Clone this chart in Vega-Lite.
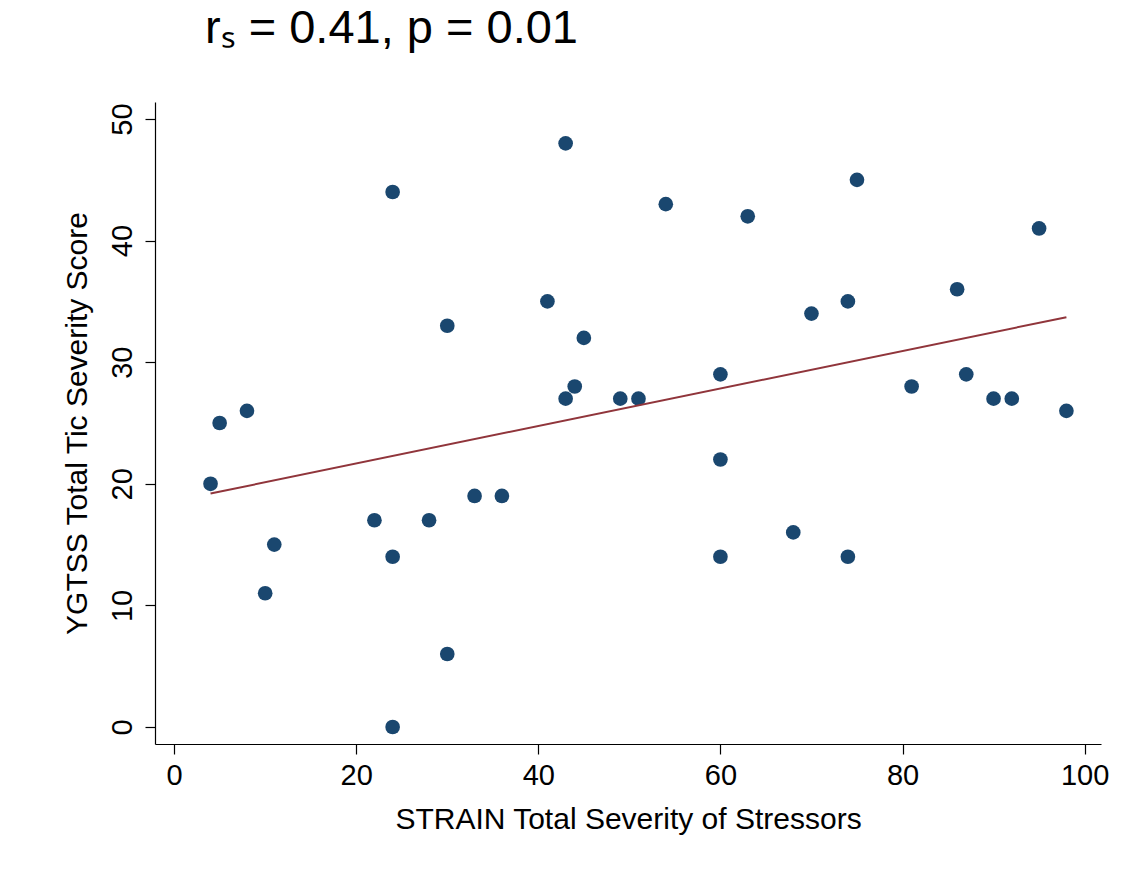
{
  "$schema": "https://vega.github.io/schema/vega-lite/v6.json",
  "autosize": "none",
  "width": 946,
  "height": 642,
  "padding": {"left": 155, "top": 102, "right": 40, "bottom": 132},
  "background": "white",
  "config": {
    "view": {"stroke": null},
    "font": "Liberation Sans",
    "axis": {"grid": false, "domainColor": "black", "tickColor": "black", "labelColor": "black", "titleColor": "black", "labelFont": "Liberation Sans", "titleFont": "Liberation Sans", "labelFontSize": 29, "titleFontSize": 30, "titleFontWeight": "normal", "tickSize": 10, "domainWidth": 1.2, "tickWidth": 1.2}
  },
  "title": {"text": "rₛ = 0.41, p = 0.01", "anchor": "start", "dx": 143, "fontSize": 47, "fontWeight": "normal", "font": "Liberation Sans", "color": "black", "offset": 49},
  "datasets": {
    "pts": [
      {"strain": 4, "ygtss": 20}, {"strain": 5, "ygtss": 25}, {"strain": 8, "ygtss": 26}, {"strain": 10, "ygtss": 11},
      {"strain": 11, "ygtss": 15}, {"strain": 22, "ygtss": 17}, {"strain": 24, "ygtss": 44}, {"strain": 24, "ygtss": 14},
      {"strain": 24, "ygtss": 0}, {"strain": 28, "ygtss": 17}, {"strain": 30, "ygtss": 33}, {"strain": 30, "ygtss": 6},
      {"strain": 33, "ygtss": 19}, {"strain": 36, "ygtss": 19}, {"strain": 41, "ygtss": 35}, {"strain": 43, "ygtss": 48},
      {"strain": 43, "ygtss": 27}, {"strain": 44, "ygtss": 28}, {"strain": 45, "ygtss": 32}, {"strain": 49, "ygtss": 27},
      {"strain": 51, "ygtss": 27}, {"strain": 54, "ygtss": 43}, {"strain": 60, "ygtss": 29}, {"strain": 60, "ygtss": 22},
      {"strain": 60, "ygtss": 14}, {"strain": 63, "ygtss": 42}, {"strain": 68, "ygtss": 16}, {"strain": 70, "ygtss": 34},
      {"strain": 74, "ygtss": 35}, {"strain": 74, "ygtss": 14}, {"strain": 75, "ygtss": 45}, {"strain": 81, "ygtss": 28},
      {"strain": 86, "ygtss": 36}, {"strain": 87, "ygtss": 29}, {"strain": 90, "ygtss": 27}, {"strain": 92, "ygtss": 27},
      {"strain": 95, "ygtss": 41}, {"strain": 98, "ygtss": 26}
    ],
    "fit": [
      {"strain": 4, "ygtss": 19.2},
      {"strain": 98, "ygtss": 33.7}
    ]
  },
  "layer": [
    {
      "data": {"name": "pts"},
      "mark": {"type": "circle", "size": 215, "opacity": 1, "color": "#1a476f"},
      "encoding": {
        "x": {"field": "strain", "type": "quantitative", "scale": {"domain": [-2.1, 101.8], "nice": false, "zero": false},
              "axis": {"values": [0, 20, 40, 60, 80, 100], "title": "STRAIN Total Severity of Stressors", "labelPadding": 7, "titlePadding": 14}},
        "y": {"field": "ygtss", "type": "quantitative", "scale": {"domain": [-1.4, 51.4], "nice": false, "zero": false},
              "axis": {"values": [0, 10, 20, 30, 40, 50], "title": "YGTSS Total Tic Severity Score", "labelAngle": -90, "labelAlign": "center", "labelBaseline": "bottom", "labelPadding": 8, "titlePadding": 16}}
      }
    },
    {
      "data": {"name": "fit"},
      "mark": {"type": "line", "color": "#90353b", "strokeWidth": 2},
      "encoding": {
        "x": {"field": "strain", "type": "quantitative"},
        "y": {"field": "ygtss", "type": "quantitative"}
      }
    }
  ]
}
